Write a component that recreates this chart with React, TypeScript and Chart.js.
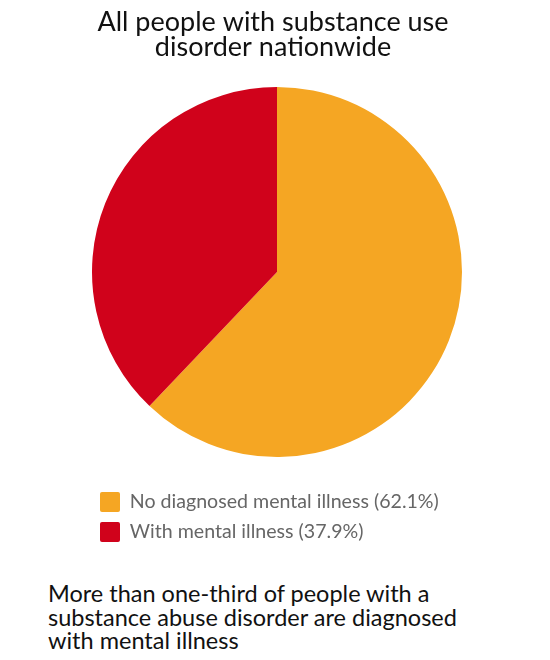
import React, { useEffect, useRef } from "react";
import { Chart, registerables } from "chart.js";

Chart.register(...registerables);

const titleLines = ["All people with substance use", "disorder nationwide"];
const categories = ["No diagnosed mental illness (62.1%)", "With mental illness (37.9%)"];
const values = [62.1, 37.9];
const colors = ["#F5A623", "#D0021B"];
const footerLines = [
  "More than one-third of people with a",
  "substance abuse disorder are diagnosed",
  "with mental illness",
];

const shiftTitle = {
  id: "shiftTitle",
  afterLayout(chart: any) {
    const t = chart.titleBlock;
    if (t) {
      t.left -= 4;
      t.right -= 4;
    }
  },
};

export default function App() {
  const ref = useRef<HTMLCanvasElement | null>(null);

  useEffect(() => {
    if (!ref.current) return;
    const chart = new Chart(ref.current, {
      type: "pie",
      data: {
        labels: categories,
        datasets: [
          {
            data: values,
            backgroundColor: colors,
            borderWidth: 0,
          },
        ],
      },
      plugins: [shiftTitle],
      options: {
        animation: false,
        responsive: true,
        maintainAspectRatio: false,
        layout: { padding: 0 },
        plugins: {
          title: {
            display: true,
            text: titleLines,
            color: "#111",
            font: { family: "Lato", size: 27, weight: "normal", lineHeight: 0.95 },
            padding: { top: 1, bottom: 26.7 },
          },
          legend: {
            position: "bottom",
            align: "start",
            title: {
              display: true,
              text: " ",
              font: { size: 10 },
              padding: 6.5,
            },
            labels: {
              boxWidth: 20,
              boxHeight: 20,
              padding: 10,
              useBorderRadius: true,
              borderRadius: 2,
              color: "#666",
              font: { family: "Lato", size: 19.6 },
            },
          },
          tooltip: { enabled: false },
        },
      },
    });
    return () => chart.destroy();
  }, []);

  return (
    <div>
      <div style={{ marginLeft: 82, width: 374, height: 544, position: "relative" }}>
        <canvas ref={ref} />
      </div>
      <div
        style={{
          marginLeft: 40,
          marginTop: 30,
          fontFamily: "Lato",
          fontSize: 23.5,
          lineHeight: "23.5px",
          color: "#111",
        }}
      >
        {footerLines.map((l, i) => (
          <div key={i}>{l}</div>
        ))}
      </div>
    </div>
  );
}
